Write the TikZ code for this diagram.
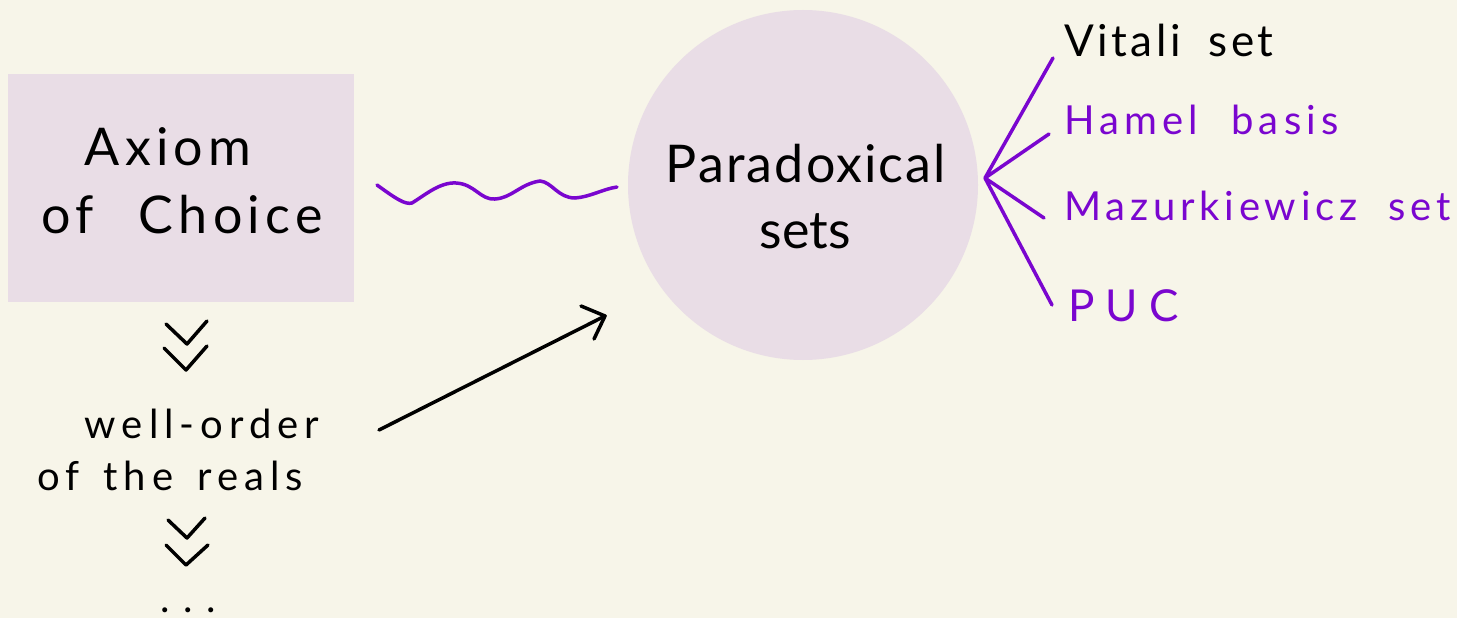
\documentclass[tikz,border=0pt]{standalone}
\usepackage{fontspec}
\setmainfont{Lato}
\usetikzlibrary{arrows.meta}
\definecolor{bg}{HTML}{F7F5E9}
\definecolor{mauve}{HTML}{E9DDE6}
\definecolor{vio}{HTML}{7A06CF}
\newcommand{\ls}[1]{\addfontfeatures{LetterSpace=#1}}
\tikzset{
  lbl/.style={inner sep=0pt, anchor=base},
  big/.style={font=\fontsize{52}{60}\selectfont},
  mid/.style={font=\fontsize{44}{52}\selectfont},
  sml/.style={font=\fontsize{40}{48}\selectfont},
  pline/.style={draw=vio, line width=3.5pt, line cap=round},
  kline/.style={draw=black, line width=3.5pt, line cap=round, line join=round},
}
\begin{document}
\begin{tikzpicture}[x=1pt,y=-1pt]
\useasboundingbox[fill=bg] (0,0) rectangle (1457,618);
% Axiom box
\node[fill=mauve, minimum width=346pt, minimum height=228pt, inner sep=0pt] (ac) at (181,188) {};
\node[lbl,big] (ac1) at (168,165) {\ls{10}Axiom};
\node[lbl,big] (ac2) at (182,233) {\ls{10}of\hspace{45pt}Choice};
% circle
\node[circle, fill=mauve, minimum size=350pt, inner sep=0pt] (ps) at (803,185) {};
\node[lbl,big] (ps1) at (806,182) {\ls{4}Paradoxical};
\node[lbl,big] (ps2) at (805,248) {sets};
% wavy connection
\coordinate (w0) at (377,185);
\coordinate (w1) at (617,187);
\draw[pline] (w0) .. controls (395,198) and (405,205) .. (412,203)
  .. controls (425,195) and (440,182) .. (456,183)
  .. controls (475,184) and (480,200) .. (495,199)
  .. controls (512,198) and (520,184) .. (540,181)
  .. controls (552,182) and (558,198) .. (575,198)
  .. controls (590,197) and (603,189) .. (w1);
% fan
\coordinate (f) at (985,178);
\coordinate (e1) at (1053,58);
\coordinate (e2) at (1049,134);
\coordinate (e3) at (1044,218);
\coordinate (e4) at (1052,305);
\draw[pline, line join=round] (e1) -- (f) -- (e2) (f) -- (e3) (f) -- (e4);
\node[lbl,mid,anchor=base west] (v) at (1064,57) {\ls{8}Vitali\hspace{28pt}set};
\node[lbl,sml,anchor=base west,text=vio] (h) at (1064,134) {\ls{13}Hamel\hspace{33pt}basis};
\node[lbl,sml,anchor=base west,text=vio] (m) at (1064,220) {\ls{12}Mazurkiewicz\hspace{31pt}set};
\node[lbl,mid,anchor=base west,text=vio] (p) at (1068,321) {\ls{25}PUC};
% chevrons
\draw[kline] (166,324) -- (187,344) -- (207,321);
\draw[kline] (164,348) -- (186,370) -- (207,346);
\node[lbl,sml] (wo1) at (202,438) {\ls{15}well-order};
\node[lbl,sml] (wo2) at (170,490) {\ls{15}of\hspace{24pt}the\hspace{24pt}reals};
\draw[kline] (168,520) -- (187,538) -- (205,518);
\draw[kline] (166,545) -- (186,565) -- (208,545);
\node[lbl,sml] (dots) at (188,612) {. . .};
% arrow
\coordinate (a0) at (379,430);
\coordinate (a1) at (605,316);
\draw[kline] (a0) -- (a1);
\draw[kline] (581,306) -- (605,316) -- (594,339);
\end{tikzpicture}
\end{document}
